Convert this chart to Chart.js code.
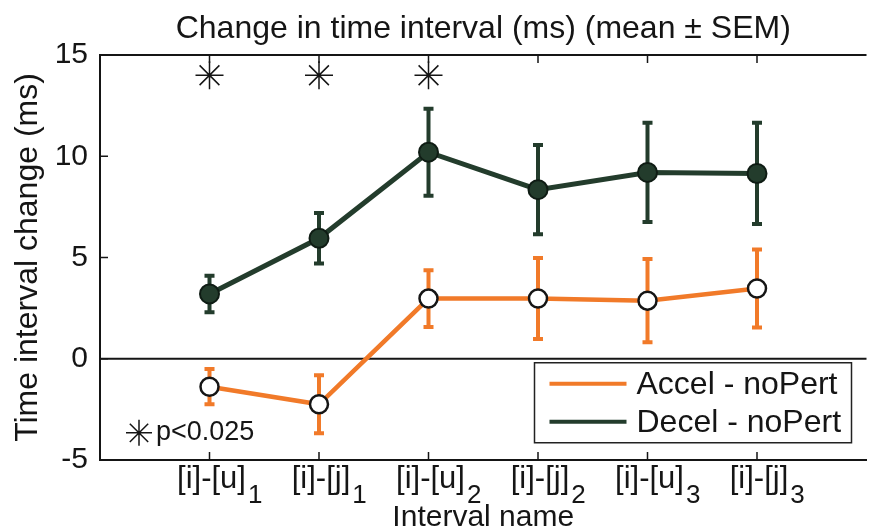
<!DOCTYPE html>
<html>
<head>
<meta charset="utf-8">
<script src="https://cdn.jsdelivr.net/npm/chart.js@4"></script>
<style>
  html, body { margin: 0; padding: 0; overflow: hidden; background: #fff; }
  canvas { display: block; }
</style>
</head>
<body>
<canvas id="chart" width="882" height="532"></canvas>
<script>
const categories = ['[i]-[u]', '[i]-[j]', '[i]-[u]', '[i]-[j]', '[i]-[u]', '[i]-[j]'];
const subscripts = ['1', '1', '2', '2', '3', '3'];
const accelMean = [-1.38, -2.25, 2.97, 2.98, 2.87, 3.47];
const accelSem = [0.87, 1.43, 1.40, 2.00, 2.05, 1.93];
const decelMean = [3.2, 5.95, 10.2, 8.35, 9.2, 9.15];
const decelSem = [0.9, 1.25, 2.15, 2.2, 2.45, 2.5];
const sigIdx = [0, 1, 2];
const sigLevel = 14;
const yTicks = [-5, 0, 5, 10, 15];
const titleText = 'Change in time interval (ms) (mean \u00b1 SEM)';

const FONT = '"Liberation Sans", Arial, Helvetica, sans-serif';
const ORANGE = '#f17a29';
const GREEN = '#233c2c';
const INK = '#151515';

const toPoints = arr => arr.map((v, i) => ({ x: i + 1, y: v }));

// error bars, axes box, inward ticks, zero line
const decorations = {
  id: 'decorations',
  beforeDatasetsDraw(chart) {
    const { ctx, chartArea: a, scales: { x, y } } = chart;
    ctx.save();
    // zero line
    ctx.strokeStyle = INK;
    ctx.lineWidth = 2;
    ctx.beginPath();
    ctx.moveTo(a.left, y.getPixelForValue(0));
    ctx.lineTo(a.right, y.getPixelForValue(0));
    ctx.stroke();
    // top border
    ctx.beginPath();
    ctx.moveTo(a.left, a.top);
    ctx.lineTo(a.right, a.top);
    ctx.stroke();
    // inward ticks
    ctx.lineWidth = 1.5;
    yTicks.forEach(v => {
      const py = y.getPixelForValue(v);
      ctx.beginPath();
      ctx.moveTo(a.left, py);
      ctx.lineTo(a.left + 8, py);
      ctx.stroke();
    });
    categories.forEach((c, i) => {
      const px = x.getPixelForValue(i + 1);
      ctx.beginPath();
      ctx.moveTo(px, a.bottom);
      ctx.lineTo(px, a.bottom - 8);
      ctx.moveTo(px, a.top);
      ctx.lineTo(px, a.top + 8);
      ctx.stroke();
    });
    // error bars
    const bars = [[accelMean, accelSem, ORANGE], [decelMean, decelSem, GREEN]];
    bars.forEach(([m, s, col]) => {
      ctx.strokeStyle = col;
      ctx.lineWidth = 4;
      m.forEach((v, i) => {
        const px = x.getPixelForValue(i + 1);
        const hi = y.getPixelForValue(v + s[i]);
        const lo = y.getPixelForValue(v - s[i]);
        ctx.beginPath();
        ctx.moveTo(px, hi);
        ctx.lineTo(px, lo);
        ctx.moveTo(px - 5, hi);
        ctx.lineTo(px + 5, hi);
        ctx.moveTo(px - 5, lo);
        ctx.lineTo(px + 5, lo);
        ctx.stroke();
      });
    });
    ctx.restore();
  },
  afterDraw(chart) {
    const { ctx, chartArea: a, scales: { x, y } } = chart;
    ctx.save();
    // title centred over the axes
    ctx.fillStyle = INK;
    ctx.font = '32px ' + FONT;
    ctx.textAlign = 'center';
    ctx.textBaseline = 'alphabetic';
    ctx.fillText(titleText, (a.left + a.right) / 2, 38);
    // x tick labels with subscripts
    categories.forEach((c, i) => {
      const px = x.getPixelForValue(i + 1);
      ctx.font = '31px ' + FONT;
      ctx.textAlign = 'center';
      ctx.fillText(c, px + 2, a.bottom + 28);
      const w = ctx.measureText(c).width;
      ctx.font = '26px ' + FONT;
      ctx.textAlign = 'left';
      ctx.fillText(subscripts[i], px + w / 2 + 4, a.bottom + 43);
    });
    // legend
    const bx = a.right - 332, by = y.getPixelForValue(0) + 4;
    ctx.fillStyle = '#fff';
    ctx.fillRect(bx, by, 317, 80);
    ctx.strokeStyle = '#222';
    ctx.lineWidth = 1.5;
    ctx.strokeRect(bx, by, 317, 80);
    [['Accel - noPert', ORANGE], ['Decel - noPert', GREEN]].forEach(([t, col], k) => {
      const ly = by + 21 + k * 38;
      ctx.strokeStyle = col;
      ctx.lineWidth = 4;
      ctx.beginPath();
      ctx.moveTo(bx + 15, ly);
      ctx.lineTo(bx + 92, ly);
      ctx.stroke();
      ctx.fillStyle = INK;
      ctx.font = '32px ' + FONT;
      ctx.textAlign = 'left';
      ctx.textBaseline = 'middle';
      ctx.fillText(t, bx + 102, ly + 1);
    });
    // significance note
    const sx = a.left + 39, sy = y.getPixelForValue(-3.66);
    ctx.strokeStyle = INK;
    ctx.lineWidth = 1.5;
    ctx.beginPath();
    for (let k = 0; k < 4; k++) {
      const ang = k * Math.PI / 4;
      ctx.moveTo(sx - 13 * Math.cos(ang), sy - 13 * Math.sin(ang));
      ctx.lineTo(sx + 13 * Math.cos(ang), sy + 13 * Math.sin(ang));
    }
    ctx.stroke();
    ctx.fillStyle = INK;
    ctx.font = '27px ' + FONT;
    ctx.textAlign = 'left';
    ctx.textBaseline = 'middle';
    ctx.fillText('p<0.025', sx + 17, sy);
    ctx.restore();
  }
};

new Chart(document.getElementById('chart'), {
  type: 'line',
  data: {
    datasets: [
      {
        label: 'Accel - noPert',
        data: toPoints(accelMean),
        borderColor: ORANGE,
        borderWidth: 4.5,
        pointRadius: 9,
        pointBackgroundColor: '#fff',
        pointBorderColor: INK,
        pointBorderWidth: 2.5,
        clip: false
      },
      {
        label: 'Decel - noPert',
        data: toPoints(decelMean),
        borderColor: GREEN,
        borderWidth: 5,
        pointRadius: 9.5,
        pointBackgroundColor: GREEN,
        pointBorderColor: '#0f1c14',
        pointBorderWidth: 2,
        clip: false
      },
      {
        label: 'p<0.025',
        data: sigIdx.map(i => ({ x: i + 1, y: sigLevel })),
        showLine: false,
        pointStyle: 'star',
        pointRadius: 14,
        pointBorderColor: INK,
        pointBorderWidth: 1.5,
        clip: false
      }
    ]
  },
  options: {
    responsive: false,
    animation: false,
    events: [],
    layout: { padding: { left: 0, right: 3, top: 55, bottom: 0 } },
    plugins: {
      legend: { display: false },
      tooltip: { enabled: false },
      title: { display: false }
    },
    scales: {
      x: {
        type: 'linear',
        min: 0,
        max: 7,
        grid: { display: false },
        border: { display: true, color: INK, width: 2 },
        ticks: { display: false },
        afterFit: s => { s.height = 72; },
        title: {
          display: true,
          text: 'Interval name',
          color: INK,
          font: { family: FONT, size: 30, lineHeight: 0.77 },
          padding: { top: 0, bottom: 3 }
        }
      },
      y: {
        min: -5,
        max: 15,
        grid: { display: false },
        border: { display: true, color: INK, width: 2 },
        afterBuildTicks: s => { s.ticks = yTicks.map(v => ({ value: v })); },
        ticks: {
          color: INK,
          padding: 4,
          font: { family: FONT, size: 30 }
        },
        afterFit: s => { s.width = 100; },
        title: {
          display: true,
          text: 'Time interval change (ms)',
          color: INK,
          font: { family: FONT, size: 32, lineHeight: 1 },
          padding: { top: 12, bottom: 0 }
        }
      }
    }
  },
  plugins: [decorations]
});
</script>
</body>
</html>
